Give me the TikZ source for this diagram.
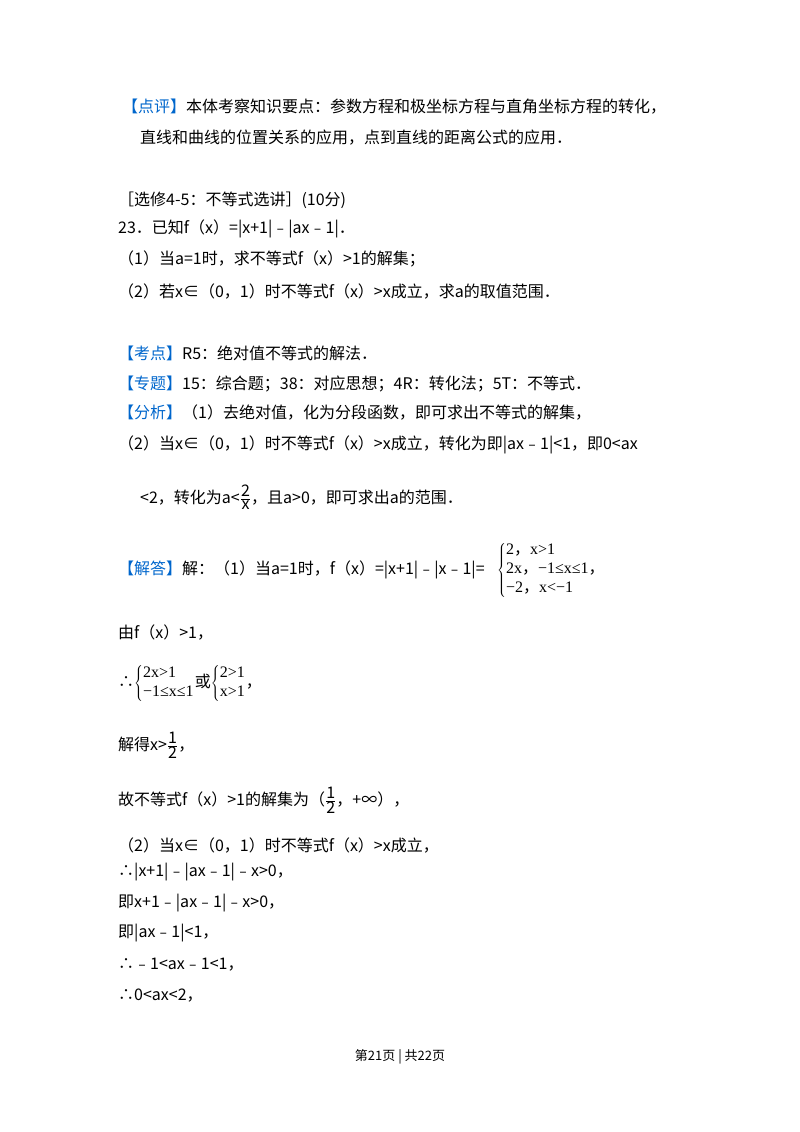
\documentclass[tikz,border=0pt]{standalone}
\usepackage{fontspec}
\setmainfont{Noto Sans CJK SC}
\newfontfamily\serf{Liberation Serif}
\definecolor{hb}{RGB}{0,102,204}
\begin{document}
\begin{tikzpicture}[x=1pt,y=-1pt,t/.style={anchor=west,inner sep=0pt,font=\fontsize{16}{19}\selectfont},
 s/.style={anchor=west,inner sep=0pt,font=\fontsize{16}{19}\selectfont}]
\useasboundingbox (0,0) rectangle (800,1132);
\node[t] (l1) at (122,107) {\textcolor{hb}{【点评】}本体考察知识要点：参数方程和极坐标方程与直角坐标方程的转化，};
\node[t] (l2) at (140,138) {直线和曲线的位置关系的应用，点到直线的距离公式的应用．};
\node[t] (l3) at (118,200) {［选修4-5：不等式选讲］(10分)};
\node[t] (l4) at (118,229) {23．已知f（x）=|x+1|﹣|ax﹣1|．};
\node[t] (l5) at (118,259) {（1）当a=1时，求不等式f（x）>1的解集；};
\node[t] (l6) at (118,292) {（2）若x∈（0，1）时不等式f（x）>x成立，求a的取值范围．};
\node[t] (l7) at (118,353) {\textcolor{hb}{【考点】}R5：绝对值不等式的解法．};
\node[t] (l8) at (118,384) {\textcolor{hb}{【专题】}15：综合题；38：对应思想；4R：转化法；5T：不等式．};
\node[t] (l9) at (118,413) {\textcolor{hb}{【分析】}（1）去绝对值，化为分段函数，即可求出不等式的解集，};
\node[t] (l10) at (118,445) {（2）当x∈（0，1）时不等式f（x）>x成立，转化为即|ax﹣1|<1，即0<ax};
\node[t] (l11) at (140,497) {<2，转化为a<$\frac{\mbox{2}}{\mbox{x}}$，且a>0，即可求出a的范围．};
\node[t] (l12) at (118,570) {\textcolor{hb}{【解答】}解：（1）当a=1时，f（x）=|x+1|﹣|x﹣1|=};
\node[s] (p1) at (497,570) {$\left\{\begin{array}{@{}l@{}}\mbox{{\serf 2}，{\serf x>1}}\\ \mbox{{\serf 2x}，{\serf −1≤x≤1}，}\\ \mbox{{\serf −2}，{\serf x<−1}}\end{array}\right.$};
\node[t] (l13) at (118,633) {由f（x）>1，};
\node[t] (l14) at (118,683) {∴$\left\{\begin{array}{@{}l@{}}\mbox{\serf 2x>1}\\ \mbox{\serf −1≤x≤1}\end{array}\right.$或$\left\{\begin{array}{@{}l@{}}\mbox{\serf 2>1}\\ \mbox{\serf x>1}\end{array}\right.$，};
\node[t] (l15) at (118,745) {解得x>$\frac{\mbox{1}}{\mbox{2}}$，};
\node[t] (l16) at (118,800) {故不等式f（x）>1的解集为（$\frac{\mbox{1}}{\mbox{2}}$，+∞），};
\node[t] (l17) at (118,845) {（2）当x∈（0，1）时不等式f（x）>x成立，};
\node[t] (l18) at (118,872) {∴|x+1|﹣|ax﹣1|﹣x>0，};
\node[t] (l19) at (118,903) {即x+1﹣|ax﹣1|﹣x>0，};
\node[t] (l20) at (118,933) {即|ax﹣1|<1，};
\node[t] (l21) at (118,965) {∴﹣1<ax﹣1<1，};
\node[t] (l22) at (118,996) {∴0<ax<2，};
\node[inner sep=0pt,font=\fontsize{13}{15}\selectfont] (ft) at (400,1057) {第21页 | 共22页};
\end{tikzpicture}
\end{document}
